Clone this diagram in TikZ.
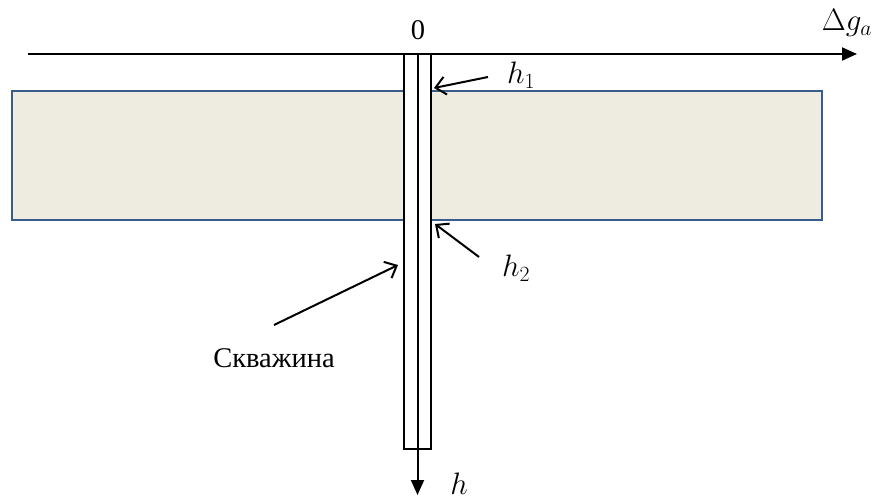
\documentclass[tikz,border=0pt]{standalone}
\usepackage{fix-cm}
\usepackage{fontspec}
\setmainfont{Liberation Serif}
\usepackage{tikz}
\usetikzlibrary{
  arrows.meta,
  positioning
}
\definecolor{layerfill}{HTML}{EEECE1}
\definecolor{layerline}{HTML}{385D8A}

\begin{document}
\begin{tikzpicture}[x=1pt,y=-1pt,>=Latex,
    every node/.style={font=\fontsize{28.5}{32}\selectfont,inner sep=0pt},
    mathlabel/.style={font=\fontsize{31}{34}\selectfont},
    layer/.style={draw=layerline,fill=layerfill,line width=2pt},
    axis/.style={line width=2pt,-{Triangle[length=15pt,width=13pt]}},
    wellbox/.style={draw,fill=white,line width=2pt},
    pointer/.style={line width=2pt,-{Straight Barb[length=10pt,width=18pt,line width=2pt]}}]
  \useasboundingbox (0,0) rectangle (875,500);
  \draw[layer] (12,91) rectangle (822,220);
  % axes
  \coordinate (O) at (417.5,54);
  \coordinate (A0) at (28,54);
  \coordinate (A1) at (857,54);
  \coordinate (H1) at (417.5,495);
  \draw[axis] (A0) -- (A1);
  \draw[wellbox] (404,54) rectangle (431,449);
  \draw[axis] (O) -- (H1);
  % labels
  \node (zero) at (418,30)  {0};
  \node[mathlabel] (dg) at (847,23)  {$\Delta g_a$};
  \node[mathlabel] (h1) at (521,75)  {$h_1$};
  \node[mathlabel] (h2) at (516,268) {$h_2$};
  \node[mathlabel] (h)  at (459,484) {$h$};
  \node (skv)  at (274,358) {Скважина};
  % pointers
  \coordinate (h1tail) at (488,77);
  \coordinate (h1tip)  at (434,88);
  \coordinate (h2tail) at (479,257);
  \coordinate (h2tip)  at (435,224);
  \coordinate (skvtail) at (274,325);
  \coordinate (skvtip)  at (398,265);
  \foreach \u/\v in {h1tail/h1tip,h2tail/h2tip,skvtail/skvtip}
    \draw[pointer] (\u) -- (\v);
\end{tikzpicture}
\end{document}
